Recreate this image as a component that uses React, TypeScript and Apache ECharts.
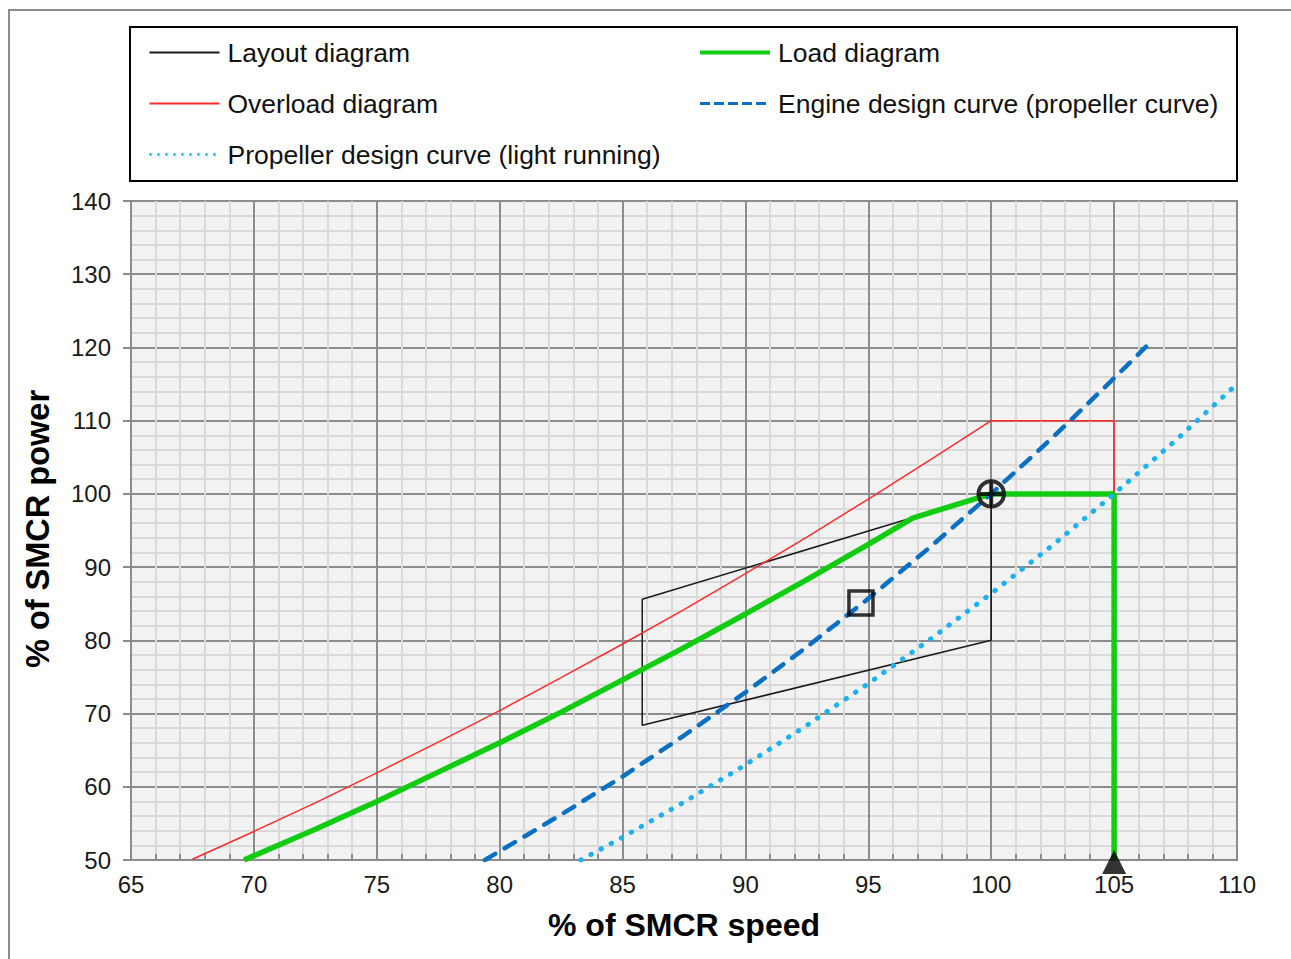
import React, { useEffect, useRef } from "react";
import * as echarts from "echarts";

// ---- data ----
const xTicks = { min: 65, max: 110, step: 5 };
const yTicks = { min: 50, max: 140, step: 10 };

const layoutDiagram: number[][] = [
  [100, 100], [100, 80], [85.8, 68.4], [85.8, 85.6], [100, 100],
];
const overloadDiagram: number[][] = [
  [67.5, 50.1], [70, 53.9], [72.5, 57.8], [75, 61.9], [77.5, 66.1], [80, 70.4], [82.5, 74.9],
  [85, 79.5], [87.5, 84.2], [90, 89.1], [92.5, 94.1], [95, 99.3], [97.5, 104.6], [100, 110],
  [105, 110], [105, 100],
];
const loadDiagram: number[][] = [
  [69.6, 50], [72.5, 54.2], [75, 58], [77.5, 62], [80, 66], [82.5, 70.2], [85, 74.6],
  [87.5, 79], [90, 83.6], [92.5, 88.3], [95, 93.1], [96.8, 96.7], [100, 100], [105, 100], [105, 50],
];
const engineCurve: number[][] = [
  [79.4, 50], [80, 51.2], [82.5, 56.2], [85, 61.4], [87.5, 67], [90, 72.9], [92.5, 79.1],
  [95, 85.7], [97.5, 92.7], [100, 100], [102.5, 107.7], [105, 115.8], [106.3, 120.1],
];
const propellerCurve: number[][] = [
  [83.3, 50], [85, 53.1], [87.5, 57.9], [90, 63], [92.5, 68.4], [95, 74.1], [97.5, 80.1],
  [100, 86.4], [102.5, 93], [105, 100], [107.5, 107.3], [110, 115],
];
const smcrPoint: number[][] = [[100, 100]];
const squarePoint: number[][] = [[94.7, 85.1]];
const trianglePoint: number[][] = [[105, 50]];

const legendCol1 = ["Layout diagram", "Overload diagram", "Propeller design curve (light running)"];
const legendCol2 = ["Load diagram", "Engine design curve (propeller curve)"];

const FONT = "'Liberation Sans', Arial, sans-serif";

const BLACK = "#1a1a1a";
const RED = "#ff2a2a";
const GREEN = "#11cc11";
const BLUE = "#0a70c4";
const LIGHTBLUE = "#1ab2f0";

export default function App() {
  const ref = useRef<HTMLDivElement>(null);

  useEffect(() => {
    if (!ref.current) return;
    const chart = echarts.init(ref.current, null, { renderer: "svg" });

    const legendBase = {
      orient: "vertical" as const,
      top: 39,
      padding: 0,
      itemWidth: 70,
      itemHeight: 14,
      itemGap: 24,
      selectedMode: false,
      itemStyle: { opacity: 0 },
      textStyle: { fontFamily: FONT, fontSize: 26.5, color: "#111", padding: [0, 0, 0, 3] },
    };

    const legendItem = (name: string) => {
      const styles: Record<string, any> = {
        "Layout diagram": { color: BLACK, width: 2, type: "solid" },
        "Overload diagram": { color: RED, width: 2, type: "solid" },
        "Load diagram": { color: GREEN, width: 4, type: "solid" },
        "Engine design curve (propeller curve)": { color: BLUE, width: 3, type: [10, 4], cap: "butt" },
        "Propeller design curve (light running)": { color: LIGHTBLUE, width: 3, type: [2, 6], cap: "butt" },
      };
      return { name, lineStyle: styles[name], itemStyle: { opacity: 0 } };
    };

    const option: any = {
      animation: false,
      backgroundColor: "#ffffff",
      grid: {
        left: 131,
        top: 201,
        width: 1106,
        height: 659,
        show: true,
        backgroundColor: "#f2f2f2",
        borderColor: "#8c8c8c",
        borderWidth: 2,
      },
      legend: [
        { ...legendBase, left: 148, data: legendCol1.map(legendItem) },
        { ...legendBase, left: 698, data: legendCol2.map(legendItem) },
      ],
      xAxis: {
        type: "value",
        min: xTicks.min,
        max: xTicks.max,
        interval: xTicks.step,
        axisLine: { show: true, lineStyle: { color: "#8c8c8c", width: 2 } },
        axisTick: { show: true, inside: true, length: 6, lineStyle: { color: "#8c8c8c", width: 2 } },
        minorTick: { show: true, splitNumber: 5, length: 6, lineStyle: { color: "#8c8c8c", width: 2 } },
        splitLine: { show: true, lineStyle: { color: "#8c8c8c", width: 2 } },
        minorSplitLine: { show: true, lineStyle: { color: "#d9d9d9", width: 2 } },
        axisLabel: { margin: 12, fontFamily: FONT, fontSize: 24, color: "#1a1a1a" },
      },
      yAxis: {
        type: "value",
        min: yTicks.min,
        max: yTicks.max,
        interval: yTicks.step,
        axisLine: { show: true, lineStyle: { color: "#8c8c8c", width: 2 } },
        axisTick: { show: true, inside: false, length: 8, lineStyle: { color: "#8c8c8c", width: 2 } },
        minorTick: { show: false, splitNumber: 5 },
        splitLine: { show: true, lineStyle: { color: "#8c8c8c", width: 2 } },
        minorSplitLine: { show: true, lineStyle: { color: "#d9d9d9", width: 2 } },
        axisLabel: { margin: 20, fontFamily: FONT, fontSize: 24, color: "#1a1a1a" },
      },
      graphic: [
        {
          type: "line",
          shape: { x1: 8, y1: 10, x2: 1291, y2: 10 },
          style: { stroke: "#8c8c8c", lineWidth: 2 },
          silent: true,
        },
        {
          type: "line",
          shape: { x1: 9, y1: 10, x2: 9, y2: 959 },
          style: { stroke: "#8c8c8c", lineWidth: 2 },
          silent: true,
        },
        {
          type: "rect",
          shape: { x: 130, y: 27, width: 1107, height: 154 },
          style: { fill: "rgba(0,0,0,0)", stroke: "#000", lineWidth: 2 },
          silent: true,
          z: -1,
        },
        {
          type: "text",
          x: 684,
          y: 925,
          style: {
            text: "% of SMCR speed",
            font: `bold 32px ${FONT}`,
            fill: "#000",
            align: "center",
            verticalAlign: "middle",
          },
          silent: true,
        },
        {
          type: "text",
          x: 38,
          y: 529,
          rotation: Math.PI / 2,
          style: {
            text: "% of SMCR power",
            font: `bold 32.5px ${FONT}`,
            fill: "#000",
            align: "center",
            verticalAlign: "middle",
          },
          silent: true,
        },
      ],
      series: [
        {
          name: "Layout diagram",
          type: "line",
          data: layoutDiagram,
          symbol: "none",
          lineStyle: { color: BLACK, width: 1.5 },
          itemStyle: { color: BLACK },
          z: 2,
        },
        {
          name: "Overload diagram",
          type: "line",
          data: overloadDiagram,
          symbol: "none",
          lineStyle: { color: RED, width: 1.5 },
          itemStyle: { color: RED },
          z: 3,
        },
        {
          name: "Load diagram",
          type: "line",
          data: loadDiagram,
          symbol: "none",
          lineStyle: { color: GREEN, width: 5.5 },
          itemStyle: { color: GREEN },
          z: 4,
        },
        {
          name: "Engine design curve (propeller curve)",
          type: "line",
          data: engineCurve,
          symbol: "none",
          lineStyle: { color: BLUE, width: 4.5, type: [12, 11], cap: "round" },
          itemStyle: { color: BLUE },
          z: 5,
        },
        {
          name: "Propeller design curve (light running)",
          type: "line",
          data: propellerCurve,
          symbol: "none",
          lineStyle: { color: LIGHTBLUE, width: 5, type: [0.5, 11], cap: "round" },
          itemStyle: { color: LIGHTBLUE },
          z: 5,
        },
        {
          name: "SMCR",
          type: "scatter",
          data: smcrPoint,
          symbol: "path://M0,10 A10,10 0 1,1 20,10 A10,10 0 1,1 0,10 Z M10,-1 L10,21 M-1,10 L21,10",
          symbolSize: 28,
          itemStyle: { color: "rgba(0,0,0,0)", borderColor: "#000", borderWidth: 4 },
          clip: false,
          z: 10,
        },
        {
          name: "Design point",
          type: "scatter",
          data: squarePoint,
          symbol: "rect",
          symbolSize: 24,
          itemStyle: { color: "rgba(0,0,0,0)", borderColor: "#000", borderWidth: 3.5 },
          clip: false,
          z: 10,
        },
        {
          name: "Speed limit",
          type: "scatter",
          data: trianglePoint,
          symbol: "triangle",
          symbolSize: [24, 24],
          symbolOffset: [0, 2],
          itemStyle: { color: "#000" },
          clip: false,
          z: 10,
        },
      ],
    };

    chart.setOption(option);
    return () => chart.dispose();
  }, []);

  return (
    <div
      ref={ref}
      style={{ position: "absolute", left: 0, top: 0, width: 1291, height: 959, background: "#fff" }}
    />
  );
}
